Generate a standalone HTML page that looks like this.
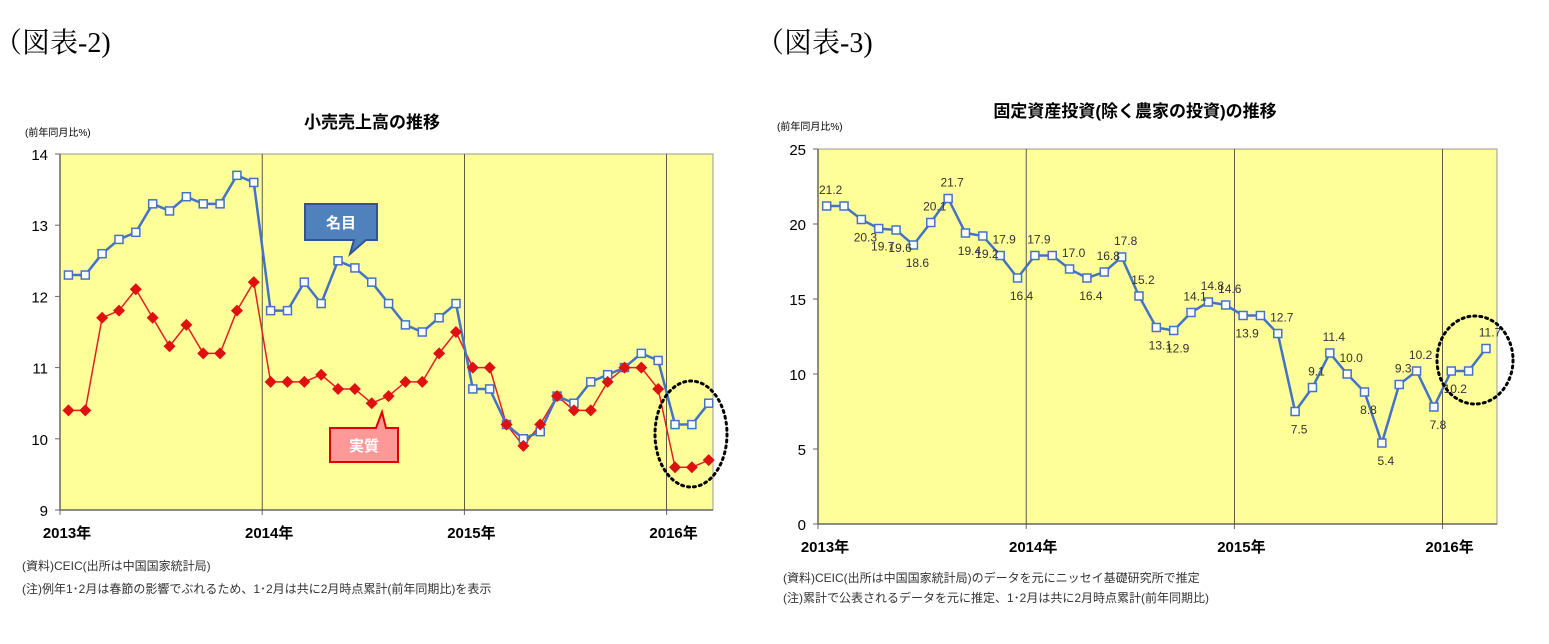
<!DOCTYPE html>
<html><head><meta charset="utf-8"><style>
body{margin:0;background:#fff;width:1549px;height:639px;overflow:hidden;font-family:"Liberation Sans","Noto Sans CJK JP",sans-serif}
svg text{font-family:"Liberation Sans","Noto Sans CJK JP",sans-serif}
</style></head><body>
<svg id="s" width="1549" height="639" viewBox="0 0 1549 639">
<text x="-6" y="52" font-size="28" style="font-family:'Liberation Serif','Noto Serif CJK SC',serif">（図表-2)</text>
<text x="756" y="52" font-size="28" style="font-family:'Liberation Serif','Noto Serif CJK SC',serif">（図表-3)</text>
<text x="372" y="128" font-size="17" font-weight="bold" text-anchor="middle">小売売上高の推移</text>
<text x="1135" y="117" font-size="17" font-weight="bold" text-anchor="middle">固定資産投資(除く農家の投資)の推移</text>
<text x="25" y="136" font-size="10">(前年同月比%)</text>
<text x="777" y="130" font-size="10">(前年同月比%)</text>
<text x="22" y="570" font-size="12" fill="#333">(資料)CEIC(出所は中国国家統計局)</text>
<text x="22" y="593" font-size="12" fill="#333">(注)例年1･2月は春節の影響でぶれるため、1･2月は共に2月時点累計(前年同期比)を表示</text>
<text x="783" y="582" font-size="12" fill="#333">(資料)CEIC(出所は中国国家統計局)のデータを元にニッセイ基礎研究所で推定</text>
<text x="783" y="602" font-size="12" fill="#333">(注)累計で公表されるデータを元に推定、1･2月は共に2月時点累計(前年同期比)</text>
<g id="L"></g><g id="R"></g>
</svg>
<script>
const years=["2013年","2014年","2015年","2016年"];
const leftTicks=[9,10,11,12,13,14];
const nominal=[12.3,12.3,12.6,12.8,12.9,13.3,13.2,13.4,13.3,13.3,13.7,13.6,11.8,11.8,12.2,11.9,12.5,12.4,12.2,11.9,11.6,11.5,11.7,11.9,10.7,10.7,10.2,10.0,10.1,10.6,10.5,10.8,10.9,11.0,11.2,11.1,10.2,10.2,10.5];
const real=[10.4,10.4,11.7,11.8,12.1,11.7,11.3,11.6,11.2,11.2,11.8,12.2,10.8,10.8,10.8,10.9,10.7,10.7,10.5,10.6,10.8,10.8,11.2,11.5,11.0,11.0,10.2,9.9,10.2,10.6,10.4,10.4,10.8,11.0,11.0,10.7,9.6,9.6,9.7];
const rightTicks=[0,5,10,15,20,25];
const fai=[21.2,21.2,20.3,19.7,19.6,18.6,20.1,21.7,19.4,19.2,17.9,16.4,17.9,17.9,17.0,16.4,16.8,17.8,15.2,13.1,12.9,14.1,14.8,14.6,13.9,13.9,12.7,7.5,9.1,11.4,10.0,8.8,5.4,9.3,10.2,7.8,10.2,10.2,11.7];
const faiLabels=["21.2","","20.3","19.7","19.6","18.6","20.1","21.7","19.4","19.2","17.9","16.4","17.9","","17.0","16.4","16.8","17.8","15.2","13.1","12.9","14.1","14.8","14.6","13.9","","12.7","7.5","9.1","11.4","10.0","8.8","5.4","9.3","10.2","7.8","10.2","","11.7"];
const faiLabelSide=["a","","b","b","b","b","a","a","b","b","a","b","a","","a","b","a","a","a","b","b","a","a","a","b","","a","b","a","a","a","b","b","a","a","b","b","","a"];
const NS="http://www.w3.org/2000/svg";
function mk(p,t,a){const e=document.createElementNS(NS,t);for(const k in a)e.setAttribute(k,a[k]);p.appendChild(e);return e;}
function chart(g,x0,x1,y0,y1,vmin,vmax,m,ticks){
  const X=i=>x0+(i+0.5)*m, Y=v=>y1-(v-vmin)/(vmax-vmin)*(y1-y0);
  let r=mk(g,'rect',{x:x0,y:y0,width:x1-x0,height:y1-y0,fill:'#ffff99',stroke:'#999','stroke-width':1});
  
  mk(g,'line',{x1:x0,y1:y0,x2:x0,y2:y1,stroke:'#666','stroke-width':1.5});
  mk(g,'line',{x1:x0,y1:y1,x2:x1,y2:y1,stroke:'#666','stroke-width':1.5});
  ticks.forEach(t=>{mk(g,'line',{x1:x0-5,y1:Y(t),x2:x0,y2:Y(t),stroke:'#666'});
    const tx=mk(g,'text',{x:x0-12,y:Y(t)+6,'font-size':15,'text-anchor':'end'});tx.textContent=t;
    });
  years.forEach((y,k)=>{const xx=x0+k*12*m;
    if(k>0){const l=mk(g,'line',{x1:xx,y1:y0,x2:xx,y2:y1,stroke:'#333','stroke-width':0.8});
      }
    mk(g,'line',{x1:xx,y1:y1,x2:xx,y2:y1+5,stroke:'#666'});
    const tx=mk(g,'text',{x:xx+7,y:y1+28,'font-size':15,'font-weight':'bold','text-anchor':'middle'});tx.textContent=y;
    });
  return {X,Y};
}
function line(g,d,X,Y,col,w,name){const p=mk(g,'polyline',{points:d.map((v,i)=>X(i)+','+Y(v)).join(' '),fill:'none',stroke:col,'stroke-width':w});
  }
function squares(g,d,X,Y,name){d.forEach((v,i)=>{const r=mk(g,'rect',{x:X(i)-4,y:Y(v)-4,width:8,height:8,fill:'#fff',stroke:'#4472c4','stroke-width':1.5});
  });}
const L=document.getElementById('L');
const a=chart(L,60,713,154,510,9,14,16.85,leftTicks);
line(L,real,a.X,a.Y,'#e02020',1.5,'real-line');
line(L,nominal,a.X,a.Y,'#4472c4',2.5,'nominal-line');
squares(L,nominal,a.X,a.Y,'nominal-marker');
real.forEach((v,i)=>{const p=mk(L,'polygon',{points:`${a.X(i)},${a.Y(v)-6} ${a.X(i)+6},${a.Y(v)} ${a.X(i)},${a.Y(v)+6} ${a.X(i)-6},${a.Y(v)}`,fill:'#e01010'});
  });
let c=mk(L,'path',{d:'M305,204 H377 V240 H366 L350,254 L354,240 H305 Z',fill:'#4f81bd',stroke:'#2f5597','stroke-width':2});

let t=mk(L,'text',{x:341,y:228,'font-size':15,fill:'#fff','text-anchor':'middle','font-weight':'bold'});t.textContent='名目';
c=mk(L,'path',{d:'M330,428 H376 L382,412 L386,428 H398 V462 H330 Z',fill:'#ff9999',stroke:'#e00000','stroke-width':2});

t=mk(L,'text',{x:364,y:451,'font-size':15,fill:'#fff','text-anchor':'middle','font-weight':'bold'});t.textContent='実質';
c=mk(L,'ellipse',{cx:691,cy:434,rx:36,ry:53,fill:'none',stroke:'#000','stroke-width':3,'stroke-dasharray':'2 4','stroke-linecap':'round'});

const R=document.getElementById('R');
const b=chart(R,818,1497,149,524,0,25,17.35,rightTicks);
line(R,fai,b.X,b.Y,'#4472c4',2.5,'fai-line');
squares(R,fai,b.X,b.Y,'fai-marker');
fai.forEach((v,i)=>{if(!faiLabels[i])return;const up=faiLabelSide[i]==='a';
  const tx=mk(R,'text',{x:b.X(i)+4,y:b.Y(v)+(up?-12:22),'font-size':12,fill:'#333','text-anchor':'middle'});tx.textContent=faiLabels[i];
  });
c=mk(R,'ellipse',{cx:1475,cy:360,rx:38,ry:44,fill:'none',stroke:'#000','stroke-width':3,'stroke-dasharray':'2 4','stroke-linecap':'round'});

</script>
</body></html>
